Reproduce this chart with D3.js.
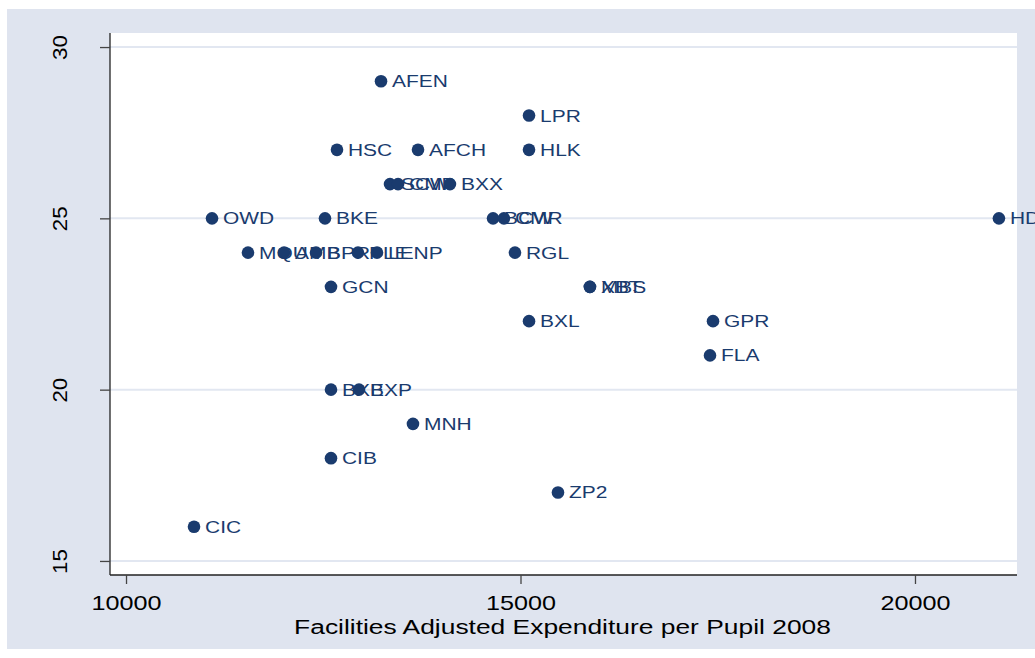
<!DOCTYPE html>
<html><head><meta charset="utf-8">
<script src="https://cdn.jsdelivr.net/npm/d3@7"></script>
<style>body{margin:0;background:#fff}svg{display:block}</style>
</head><body><svg id="c" width="1035" height="658"></svg>
<script>
const labels = ["AFEN","LPR","HSC","AFCH","HLK","SCW","CMP","BXX","OWD","BKE","BCW","CMR","HD",
  "MQU","AMB","BPR","PLE","LENP","RGL","GCN","XBT","MBS","BXL","GPR","FLA","BXE","BXP","MNH","CIB","ZP2","CIC"];
const expenditure = [13232,15108,12674,13701,15108,13346,13448,14106,11090,12522,14652,14790,21064,
  11546,12003,12408,12940,13181,14930,12598,15880,15880,15108,17440,17402,12598,12953,13637,12598,15475,10862];
const score = [29,28,27,27,27,26,26,26,25,25,25,25,25,
  24,24,24,24,24,24,23,23,23,22,22,21,20,20,19,18,17,16];
const xTicks = [10000,15000,20000];
const yTicks = [15,20,25,30];
const xTitle = "Facilities Adjusted Expenditure per Pupil 2008";

const svg = d3.select("#c");
const L=110, T=33, R=1017, B=575;
const navy = "#1a3b6e";
const font = "'Liberation Sans', Arial, sans-serif";
svg.append("rect").attr("x",7).attr("y",9).attr("width",1040).attr("height",640).attr("fill","#dfe4ef");
svg.append("rect").attr("x",L).attr("y",T).attr("width",R-L).attr("height",B-T).attr("fill","#fff");

const x = d3.scaleLinear().domain([9797,21293]).range([L,R]);
const y = d3.scaleLinear().domain([14.59,30.41]).range([B,T]);

svg.append("g").selectAll("line").data(yTicks).join("line")
  .attr("x1",L).attr("x2",R).attr("y1",d=>y(d)).attr("y2",d=>y(d))
  .attr("stroke","#e2e7f1").attr("stroke-width",2);

const xa = svg.append("g").attr("transform",`translate(0,${B})`)
  .call(d3.axisBottom(x).tickValues(xTicks).tickSize(9).tickSizeOuter(0).tickFormat(d3.format("d")));
xa.select(".domain").attr("d",`M${L},0H${R}`).attr("stroke","#222").attr("stroke-width",1.3);
xa.selectAll(".tick line").attr("stroke","#444").attr("stroke-width",1.3);
xa.selectAll(".tick text").attr("font-family",font).attr("font-size",20).attr("fill","#000")
  .attr("y",0).attr("dy",0).attr("transform","translate(0,35) scale(1.26,1)");

const ya = svg.append("g").attr("transform",`translate(${L},0)`)
  .call(d3.axisLeft(y).tickValues(yTicks).tickSize(10).tickSizeOuter(0).tickFormat(d3.format("d")));
ya.select(".domain").attr("d",`M0,${B}V${T}`).attr("stroke","#222").attr("stroke-width",1.3);
ya.selectAll(".tick line").attr("stroke","#444").attr("stroke-width",1.3);
ya.selectAll(".tick text").attr("font-family",font).attr("font-size",20).attr("fill","#000")
  .attr("x",0).attr("dy",0).attr("text-anchor","middle").attr("dominant-baseline","central")
  .attr("transform","translate(-50,0) rotate(-90) scale(1.12,1)");

const pts = labels.map((l,i)=>({l, x:expenditure[i], y:score[i]}));
const g = svg.append("g");
pts.forEach(p=>{
  g.append("circle").attr("cx",x(p.x)).attr("cy",y(p.y)).attr("r",6.3).attr("fill",navy);
  g.append("text").attr("transform",`translate(${x(p.x)+11},${y(p.y)}) scale(1.27,1)`)
    .attr("dy","0.36em")
    .attr("font-family",font).attr("font-size",16.5).attr("fill",navy).text(p.l);
});

svg.append("text").attr("transform",`translate(${(L+R)/2-1},634) scale(1.32,1)`).attr("text-anchor","middle")
  .attr("font-family",font).attr("font-size",20).attr("fill","#000").text(xTitle);
</script></body></html>
